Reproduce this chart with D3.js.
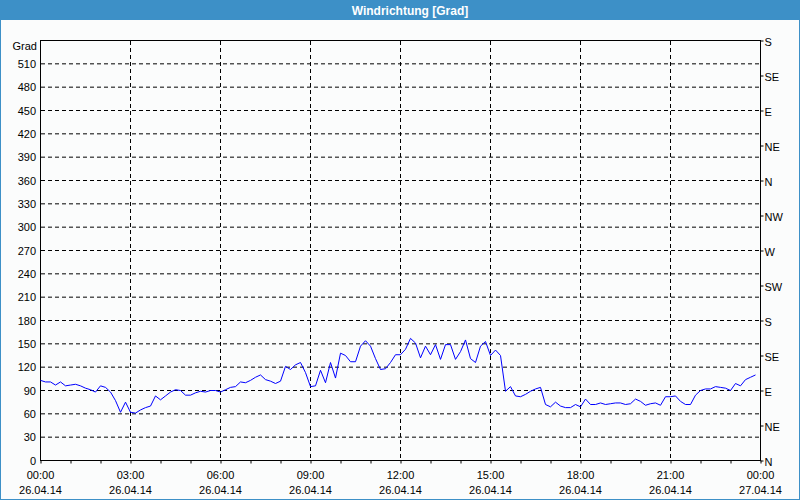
<!DOCTYPE html>
<html><head><meta charset="utf-8">
<script src="https://cdn.jsdelivr.net/npm/d3@7"></script>
<style>
html,body{margin:0;padding:0;background:#fbfcfc;}
svg{display:block;}
text{font-family:"Liberation Sans",Arial,sans-serif;font-size:11px;fill:#000;}
</style></head><body>
<script>
// ---- data ----
const title = "Windrichtung [Grad]";
const yUnit = "Grad";
const startDate = "26.04.14";
const intervalMinutes = 10;
// wind direction in degrees, 10-minute readings from 00:00 to 23:50
const windDir = [
 103,101,101,97,101,96,97,98,96,93,91,88,96,94,88,77,62,75,
 62,61,65,68,70,83,78,83,88,91,90,84,84,87,89,88,90,90,
 88,91,94,95,101,100,103,107,110,104,102,99,102,121,117,123,126,113,
 95,96,116,100,126,106,138,135,127,127,147,154,147,131,117,118,126,136,
 136,143,157,151,132,147,136,149,130,149,149,130,140,155,131,126,147,153,
 135,142,135,89,95,83,82,85,89,92,94,72,69,75,70,68,68,72,
 69,79,72,72,74,72,73,74,74,72,73,79,76,71,73,74,71,82,
 82,83,76,72,72,84,90,92,92,95,94,93,90,99,96,104,107,110
];
const yTicks = [30,60,90,120,150,180,210,240,270,300,330,360,390,420,450,480,510];
const yTickLabels = [0,30,60,90,120,150,180,210,240,270,300,330,360,390,420,450,480,510];
const compassValues = [0,45,90,135,180,225,270,315,360,405,450,495,540];
const compassLabels = ["N","NE","E","SE","S","SW","W","NW","N","NE","E","SE","S"];
const xMajorHours = [0,3,6,9,12,15,18,21,24];
const xTimeLabels = ["00:00","03:00","06:00","09:00","12:00","15:00","18:00","21:00","00:00"];
const xDateLabels = ["26.04.14","26.04.14","26.04.14","26.04.14","26.04.14","26.04.14","26.04.14","26.04.14","27.04.14"];

// ---- layout ----
const W = 800, H = 500;
const L = 40, R = 760, T = 40, B = 460;
const svg = d3.select("body").append("svg").attr("width", W).attr("height", H);

svg.append("rect").attr("x",0.5).attr("y",0.5).attr("width",W-1).attr("height",H-1)
  .attr("fill","#fbfcfc").attr("stroke","#3d90c7");
svg.append("rect").attr("x",0).attr("y",0).attr("width",W).attr("height",20).attr("fill","#3d90c7");
svg.append("text").attr("x",410).attr("y",14.5).attr("text-anchor","middle")
  .style("font-weight","bold").style("font-size","12px").style("fill","#fff").text(title);

const x = d3.scaleLinear().domain([0,24]).range([L+0.5, R+0.5]);
const y = d3.scaleLinear().domain([0,540]).range([B+0.5, T+0.5]);

// grid
const grid = svg.append("g").attr("stroke","#000").attr("stroke-dasharray","4,3").attr("stroke-width",1);
grid.selectAll("line.h").data(yTicks).enter().append("line")
  .attr("x1",L+1).attr("x2",R).attr("y1",d=>y(d)).attr("y2",d=>y(d));
grid.selectAll("line.v").data(xMajorHours.slice(1,-1)).enter().append("line")
  .attr("x1",d=>x(d)).attr("x2",d=>x(d)).attr("y1",T+1).attr("y2",B);

// frame
svg.append("rect").attr("x",L+0.5).attr("y",T+0.5).attr("width",R-L).attr("height",B-T)
  .attr("fill","none").attr("stroke","#000");

// left labels
svg.append("g").selectAll("text").data(yTickLabels).enter().append("text")
  .attr("x",36).attr("y",d=>y(d)+4).attr("text-anchor","end").text(d=>d);
svg.append("text").attr("x",37).attr("y",50).attr("text-anchor","end").text(yUnit);

// right compass axis
const rightAxis = d3.axisRight(y).tickValues(compassValues).tickSize(3).tickPadding(1)
  .tickFormat((d,i)=>compassLabels[i]);
const ra = svg.append("g").attr("transform",`translate(${R+0.5},0)`).call(rightAxis);
ra.select(".domain").remove();
ra.selectAll("line").attr("stroke","#000");
ra.selectAll("text").attr("dy","0.45em").style("font-family","Liberation Sans, Arial, sans-serif").style("font-size","11px");

// bottom hourly ticks
const hours = d3.range(0,25);
const bottomAxis = d3.axisBottom(x).tickValues(hours).tickSize(3).tickFormat("");
const ba = svg.append("g").attr("transform",`translate(0,${B+0.5})`).call(bottomAxis);
ba.select(".domain").remove();
ba.selectAll("line").attr("stroke","#000");

const xl = svg.append("g");
xl.selectAll("text.t").data(xMajorHours).enter().append("text")
  .attr("x",d=>x(d)).attr("y",479).attr("text-anchor","middle").text((d,i)=>xTimeLabels[i]);
xl.selectAll("text.d").data(xMajorHours).enter().append("text")
  .attr("x",d=>x(d)).attr("y",494).attr("text-anchor","middle").text((d,i)=>xDateLabels[i]);

// line
const line = d3.line().x((d,i)=>x(i*intervalMinutes/60)).y(d=>y(d));
svg.append("path").datum(windDir).attr("d",line).attr("fill","none")
  .attr("stroke","#0000ff").attr("stroke-width",1);
</script>
</body></html>
